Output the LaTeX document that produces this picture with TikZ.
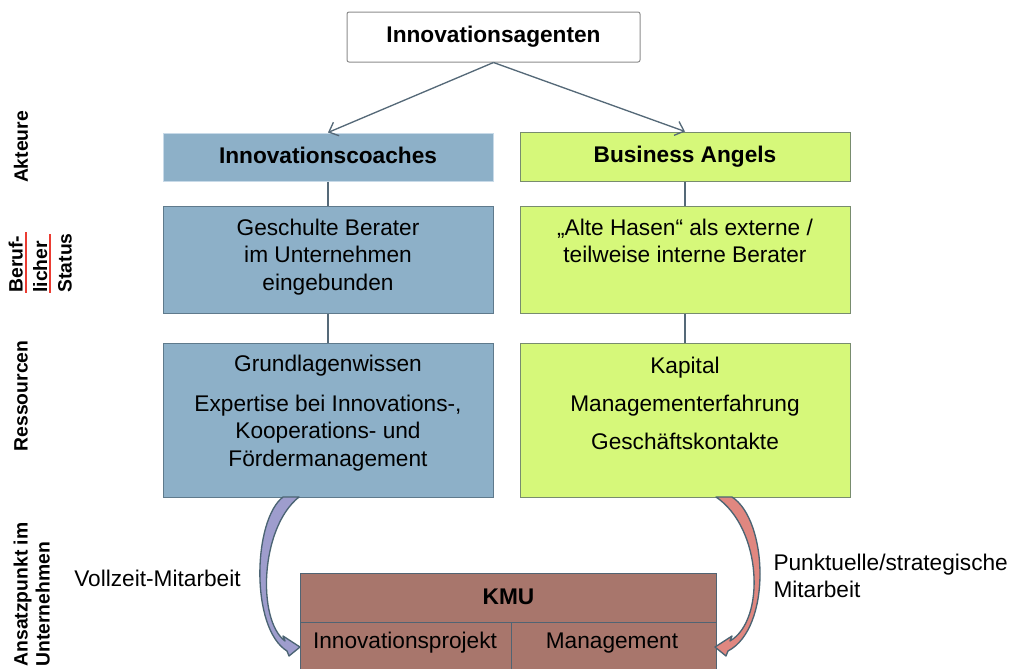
\documentclass[tikz,border=0pt]{standalone}
\usepackage{fontspec}
\setmainfont{Liberation Sans}
\usetikzlibrary{arrows.meta}

\definecolor{framegray}{RGB}{140,140,140}
\definecolor{coachblue}{RGB}{141,176,200}
\definecolor{coachline}{RGB}{95,122,140}
\definecolor{coachlight}{RGB}{200,218,232}
\definecolor{angelgreen}{RGB}{214,248,122}
\definecolor{angelline}{RGB}{120,140,110}
\definecolor{kmubrown}{RGB}{168,118,108}
\definecolor{kmuline}{RGB}{80,100,115}
\definecolor{arrowblue}{RGB}{158,157,205}
\definecolor{arrowred}{RGB}{224,135,128}
\definecolor{arrowline}{RGB}{75,100,115}
\definecolor{linkgray}{RGB}{85,105,120}
\definecolor{spellred}{RGB}{235,60,50}

\tikzset{every picture/.style={line width=0.75pt}}

\begin{document}
\begin{tikzpicture}[x=0.75pt,y=0.75pt,yscale=-1,xscale=1,
  agentbox/.style={draw=framegray, fill=white, rounded corners=1.5pt, minimum width=219.75pt, minimum height=37.5pt, inner sep=0pt, font=\bfseries\fontsize{17}{21}\selectfont},
  coachbox/.style={draw=coachline, fill=coachblue, minimum width=247.5pt, inner sep=0pt},
  angelbox/.style={draw=angelline, fill=angelgreen, minimum width=247.5pt, inner sep=0pt},
  kmubox/.style={draw=kmuline, fill=kmubrown, inner sep=0pt, anchor=north west},
  headtxt/.style={font=\bfseries\fontsize{17}{21}\selectfont, text height=12.5pt, text depth=3.5pt},
  txt/.style={font=\fontsize{17}{20.5}\selectfont, align=center, inner sep=0pt},
  rowlabel/.style={font=\bfseries\fontsize{14.5}{18.4}\selectfont, rotate=90, inner sep=0pt, align=left},
  link/.style={draw=linkgray, line width=1pt},
]
\useasboundingbox (0,0) rectangle (1014,668);

%Shape: Rectangle [agents]
\node[agentbox] (agents) at (493.5,37) {Innovationsagenten};

%Shape: Rectangle [row 1]
\node[coachbox, draw=coachlight, minimum height=36pt, headtxt] (coaches) at (328,157) {Innovationscoaches};
\node[angelbox, minimum height=36.75pt, headtxt] (angels) at (685,156.5) {Business Angels};

%Shape: Rectangle [row 2]
\node[coachbox, minimum height=80.25pt] (status-l) at (328,259.5) {};
\node[angelbox, minimum height=80.25pt] (status-r) at (685,259.5) {};

%Shape: Rectangle [row 3]
\node[coachbox, minimum height=115.5pt] (res-l) at (328,420) {};
\node[angelbox, minimum height=115.5pt] (res-r) at (685,420) {};

%Shape: Rectangle [KMU]
\node[kmubox, minimum width=312pt, minimum height=36.75pt, headtxt] (kmu) at (300,573) {KMU};
\node[kmubox, minimum width=158.25pt, minimum height=43.5pt] (kmu-proj) at (300,622) {};
\node[kmubox, minimum width=153.75pt, minimum height=43.5pt] (kmu-mgmt) at (511,622) {};

%Straight Lines
\draw[link, -{Straight Barb[length=6pt,width=11pt]}] (agents.south) -- (coaches.north);
\draw[link, -{Straight Barb[length=6pt,width=11pt]}] (agents.south) -- (angels.north);
\draw[link] (coaches) -- (status-l);
\draw[link] (angels) -- (status-r);
\draw[link] (status-l) -- (res-l);
\draw[link] (status-r) -- (res-r);

%Curve Lines [left block arrow]
\draw[draw=arrowline, fill=arrowblue, line width=1pt, line join=round] (299,497) -- (283,497) .. controls (253,520) and (250,628) .. (287,651) -- (289,656) -- (300,647) -- (283,636) -- (285,641) .. controls (257,620) and (260,528) .. (299,497) -- cycle;
%Curve Lines [right block arrow]
\draw[draw=arrowline, fill=arrowred, line width=1pt, line join=round] (716,497) -- (732,497) .. controls (768,520) and (772,628) .. (728,651) -- (726,656) -- (715,647) -- (732,636) -- (730,641) .. controls (766,620) and (762,528) .. (716,497) -- cycle;

% Text Node
\node[txt] (t-geschult) at (328,257) {Geschulte Berater\\im Unternehmen\\eingebunden};
% Text Node
\node[txt] (t-hasen) at (685,241) {„Alte Hasen“ als externe /\\teilweise interne Berater};
% Text Node
\node[txt] (t-wissen) at (328,413) {Grundlagenwissen\\[9.5pt]Expertise bei Innovations-,\\Kooperations- und\\Fördermanagement};
% Text Node
\node[txt] (t-kapital) at (685,403) {Kapital\\[8pt]Managementerfahrung\\[8pt]Geschäftskontakte};
% Text Node
\node[txt, text height=12.5pt, text depth=3.5pt] (t-proj) at (405,642) {Innovationsprojekt};
% Text Node
\node[txt, text height=12.5pt, text depth=3.5pt] (t-mgmt) at (612,642) {Management};
% Text Node
\node[txt] (t-vollzeit) at (157.5,578) {Vollzeit-Mitarbeit};
% Text Node
\node[txt, align=left, anchor=west] (t-punktuell) at (773,576) {Punktuelle/strategische\\Mitarbeit};

% Text Node [row labels]
\node[rowlabel] (l-akteure) at (21,147) {Akteure};
\node[rowlabel, anchor=north west] (l-status) at (8,293) {Beruf-\\licher\\Status};
\draw[spellred, line width=1.5pt] (26,232) -- (26,293);
\draw[spellred, line width=1.5pt] (50,234) -- (50,293);
\node[rowlabel] (l-ressourcen) at (21,396) {Ressourcen};
\node[rowlabel, anchor=north west, font=\bfseries\fontsize{14.5}{16.5}\selectfont] (l-ansatz) at (13,667) {Ansatzpunkt im\\Unternehmen};

\end{tikzpicture}
\end{document}
